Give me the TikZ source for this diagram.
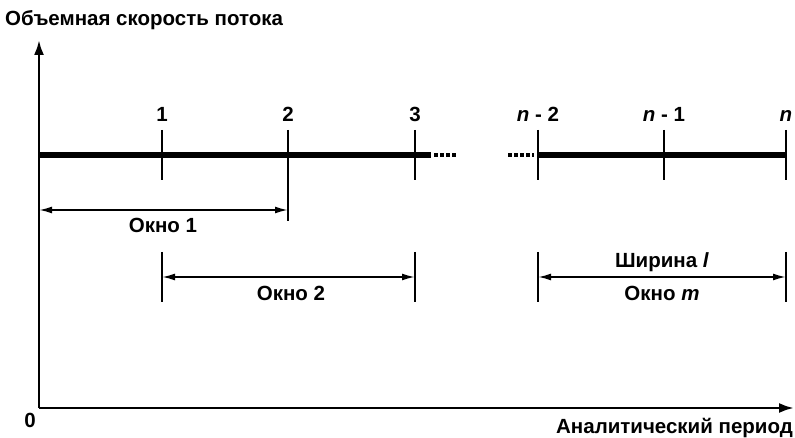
\documentclass[tikz,border=0pt]{standalone}
\usepackage{fontspec}
\setmainfont{Liberation Sans}
\usetikzlibrary{arrows.meta}
\begin{document}
\begin{tikzpicture}[x=1pt,y=-1pt,
  axis/.style={line width=2.6pt},
  flow/.style={line width=5.5pt},
  tickmark/.style={line width=2.6pt},
  span/.style={line width=1.9pt,{Latex[length=13pt,width=7pt]}-{Latex[length=13pt,width=7pt]}},
  lbl/.style={font=\bfseries\fontsize{20.5}{20.5}\selectfont, inner sep=0pt},
  dotrow/.style={line width=4pt, dash pattern=on 3.5pt off 2.5pt}]
\useasboundingbox (0,0) rectangle (795,438);

% axes
\coordinate (O) at (39,408);
\coordinate (ytip) at (39,40);
\coordinate (xtip) at (794,408);
\draw[axis,-{Latex[length=15pt,width=10pt]}] (O) -- (ytip);
\draw[axis,-{Latex[length=15pt,width=10pt]}] (O) -- (xtip);
\node[lbl,anchor=west] (ytitle) at (5,20) {Объемная скорость потока};
\node[lbl] (zero) at (30,420) {0};
\node[lbl,anchor=east] (xtitle) at (793,428) {Аналитический период};

% the time line with its points
\foreach \n/\x in {p1/162,p2/288,p3/415,pn2/538,pn1/664,pn/786}{
  \coordinate (\n) at (\x,155);
  \coordinate (\n-top) at (\x,130);
  \coordinate (\n-bot) at (\x,180);
}
\coordinate (a0) at (39,155);
\coordinate (a1) at (431,155);
\coordinate (d1s) at (434,155);
\coordinate (d1e) at (458,155);
\coordinate (d2s) at (508,155);
\coordinate (d2e) at (534,155);
\draw[flow] (a0) -- (a1);
\draw[flow] (pn2) -- (pn);
\draw[dotrow] (d1s) -- (d1e);
\draw[dotrow] (d2s) -- (d2e);

\foreach \n in {p1,p3,pn2,pn1,pn}{
  \draw[tickmark] (\n-top) -- (\n-bot);
}
\coordinate (p2low) at (288,221);
\draw[tickmark] (p2-top) -- (p2low);

\node[lbl,anchor=south] (l1) at ([yshift=8pt]p1-top) {1};
\node[lbl,anchor=south] (l2) at ([yshift=8pt]p2-top) {2};
\node[lbl,anchor=south] (l3) at ([yshift=8pt]p3-top) {3};
\node[lbl,anchor=south] (ln2) at ([yshift=8pt]pn2-top) {\textit{n} - 2};
\node[lbl,anchor=south] (ln1) at ([yshift=8pt]pn1-top) {\textit{n} - 1};
\node[lbl,anchor=south] (ln) at ([yshift=8pt]pn-top) {\textit{n}};

% window 1
\coordinate (w1a) at (39,210);
\coordinate (w1b) at (288,210);
\draw[span] (w1a) -- (w1b);
\node[lbl] (w1) at (163,225) {Окно 1};

% window 2
\coordinate (w2ta) at (162,252);
\coordinate (w2ba) at (162,302);
\coordinate (w2tb) at (415,252);
\coordinate (w2bb) at (415,302);
\draw[tickmark] (w2ta) -- (w2ba);
\draw[tickmark] (w2tb) -- (w2bb);
\coordinate (w2a) at (162,277);
\coordinate (w2b) at (415,277);
\draw[span] (w2a) -- (w2b);
\node[lbl] (w2) at (291,293) {Окно 2};

% window m
\coordinate (wmta) at (538,252);
\coordinate (wmba) at (538,302);
\coordinate (wmtb) at (786,252);
\coordinate (wmbb) at (786,302);
\draw[tickmark] (wmta) -- (wmba);
\draw[tickmark] (wmtb) -- (wmbb);
\coordinate (wma) at (538,277);
\coordinate (wmb) at (786,277);
\draw[span] (wma) -- (wmb);
\node[lbl] (wid) at (662,262) {Ширина \textit{l}};
\node[lbl] (wm) at (662,293) {Окно \textit{m}};
\end{tikzpicture}
\end{document}
